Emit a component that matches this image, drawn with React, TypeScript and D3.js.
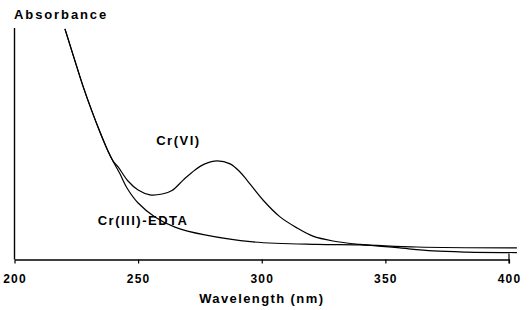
import { useEffect, useRef } from 'react';
import * as d3 from 'd3';

interface Point {
  nm: number;
  abs: number;
}

// wavelength (nm) and absorbance (arbitrary, 0-1 of axis height)
const crviWavelengths = [
  220.4, 224.1, 227.7, 231.3, 234.6, 237.8, 239.8, 241.9, 245.9, 250.0, 254.8, 259.7, 263.7,
  268.2, 273.0, 277.0, 281.9, 287.2, 291.2, 294.0, 300.5, 307.4, 314.3, 320.7, 328.8, 339.7,
  349.9, 355.9, 369.3, 383.0, 403.2
];
const crviAbsorbance = [
  0.996, 0.87, 0.749, 0.641, 0.55, 0.469, 0.426, 0.4, 0.339, 0.3, 0.279, 0.283, 0.298, 0.343,
  0.387, 0.413, 0.426, 0.413, 0.378, 0.343, 0.257, 0.184, 0.136, 0.101, 0.08, 0.065, 0.056,
  0.05, 0.037, 0.032, 0.03
];

const edtaWavelengths = [
  220.4, 224.1, 227.7, 231.3, 234.6, 237.8, 239.8, 242.7, 245.5, 250.0, 256.8, 264.9, 277.0,
  296.5, 322.4, 339.7, 362.8, 403.2
];
const edtaAbsorbance = [
  0.996, 0.87, 0.749, 0.641, 0.55, 0.469, 0.426, 0.369, 0.309, 0.244, 0.184, 0.14, 0.106, 0.076,
  0.065, 0.063, 0.054, 0.05
];

const xTicks = [200, 250, 300, 350, 400];

const labels = [
  { text: 'Cr(VI)', nm: 266.3, abs: 0.508 },
  { text: 'Cr(III)-EDTA', nm: 252, abs: 0.162 }
];

export default function App() {
  const svgRef = useRef<SVGSVGElement>(null);

  useEffect(() => {
    if (!svgRef.current) return;
    const width = 531;
    const height = 310;
    const margin = { top: 28, right: 22, bottom: 50.5, left: 14.5 };

    const svg = d3.select(svgRef.current);
    svg.selectAll('*').remove();
    svg.attr('width', width).attr('height', height);

    const x = d3.scaleLinear().domain([200, 400]).range([margin.left, width - margin.right]);
    const y = d3.scaleLinear().domain([0, 1]).range([height - margin.bottom, margin.top]);

    const font = '"Liberation Sans", Arial, sans-serif';

    // Axes
    const xAxis = svg
      .append('g')
      .attr('transform', `translate(0,${y(0)})`)
      .call(d3.axisBottom(x).tickValues(xTicks).tickSize(4).tickSizeOuter(0).tickFormat(d3.format('d')));
    xAxis.select('.domain').attr('stroke', '#000').attr('stroke-width', 1.6);
    xAxis.selectAll('.tick line').attr('stroke', '#000').attr('stroke-width', 1.2);
    xAxis
      .selectAll('.tick text')
      .attr('y', 15)
      .attr('font-family', font)
      .attr('font-weight', 'bold')
      .attr('font-size', 12)
      .attr('letter-spacing', 1.2)
      .attr('fill', '#000');

    svg
      .append('line')
      .attr('x1', x(200))
      .attr('x2', x(200))
      .attr('y1', y(0))
      .attr('y2', y(1))
      .attr('stroke', '#000')
      .attr('stroke-width', 1.4);

    svg
      .append('line')
      .attr('x1', x(400))
      .attr('x2', x(400))
      .attr('y1', y(0) - 6)
      .attr('y2', y(0) + 4)
      .attr('stroke', '#000')
      .attr('stroke-width', 1.2);

    svg
      .append('text')
      .attr('x', (x(200) + x(400)) / 2)
      .attr('y', 303)
      .attr('text-anchor', 'middle')
      .attr('font-family', font)
      .attr('font-weight', 'bold')
      .attr('font-size', 13)
      .attr('letter-spacing', 1.4)
      .text('Wavelength (nm)');

    svg
      .append('text')
      .attr('x', 14)
      .attr('y', 19)
      .attr('font-family', font)
      .attr('font-weight', 'bold')
      .attr('font-size', 13)
      .attr('letter-spacing', 1.9)
      .text('Absorbance');

    // Curves
    const line = d3
      .line<Point>()
      .x((d) => x(d.nm))
      .y((d) => y(d.abs))
      .curve(d3.curveCatmullRom.alpha(0.5));

    const series: Point[][] = [
      crviWavelengths.map((nm, i) => ({ nm, abs: crviAbsorbance[i] })),
      edtaWavelengths.map((nm, i) => ({ nm, abs: edtaAbsorbance[i] }))
    ];

    svg
      .selectAll('.spectrum')
      .data(series)
      .enter()
      .append('path')
      .attr('class', 'spectrum')
      .attr('d', line)
      .attr('fill', 'none')
      .attr('stroke', '#000')
      .attr('stroke-width', 1.2);

    svg
      .selectAll('.label')
      .data(labels)
      .enter()
      .append('text')
      .attr('class', 'label')
      .attr('x', (d) => x(d.nm))
      .attr('y', (d) => y(d.abs))
      .attr('text-anchor', 'middle')
      .attr('dominant-baseline', 'middle')
      .attr('font-family', font)
      .attr('font-weight', 'bold')
      .attr('font-size', 13)
      .attr('letter-spacing', 1.5)
      .text((d) => d.text);
  }, []);

  return <svg ref={svgRef} style={{ position: 'absolute', left: 0, top: 0, background: '#fff' }} />;
}
